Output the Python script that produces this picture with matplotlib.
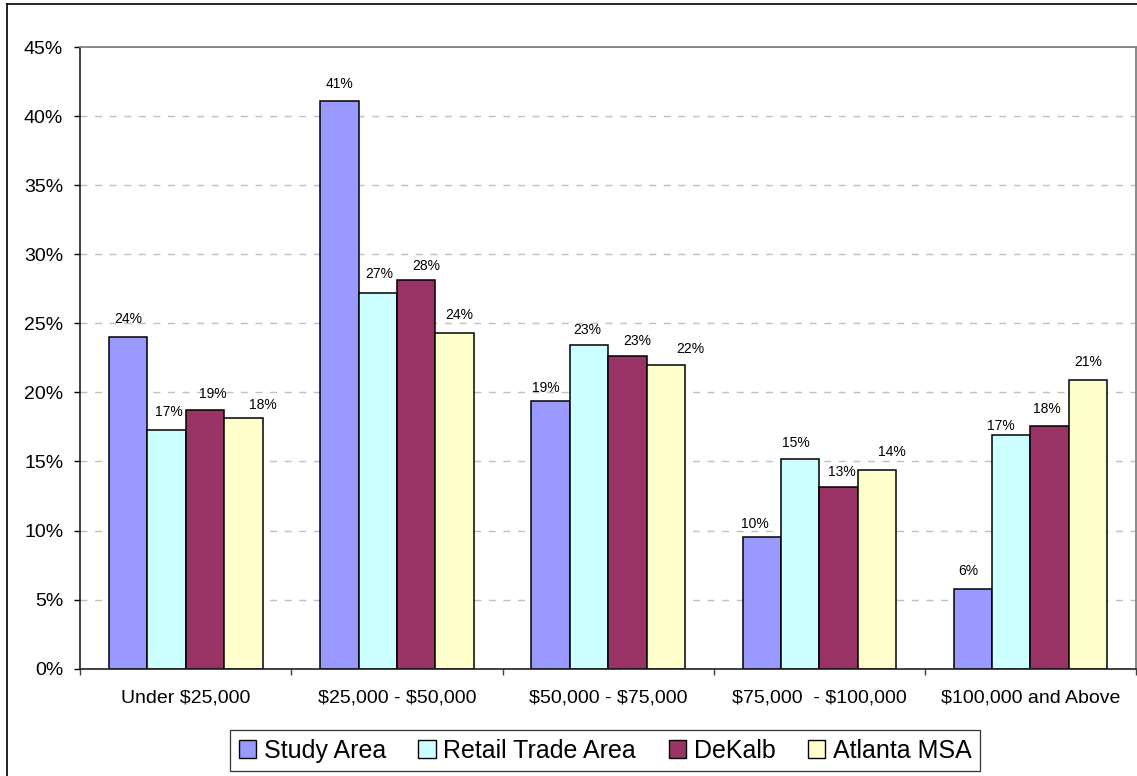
import numpy as np
import matplotlib
matplotlib.use("Agg")
import matplotlib.pyplot as plt
from matplotlib.lines import Line2D

plt.rcParams['font.family'] = ['Liberation Sans', 'DejaVu Sans']
plt.rcParams['text.parse_math'] = False

# Household income distribution by geography (share of households, %)
categories = ["Under $25,000", "$25,000 - $50,000", "$50,000 - $75,000",
              "$75,000  - $100,000", "$100,000 and Above"]
series_names = ["Study Area", "Retail Trade Area", "DeKalb", "Atlanta MSA"]
study_area = [24.0, 41.1, 19.4, 9.55, 5.75]
retail_trade_area = [17.25, 27.2, 23.4, 15.2, 16.95]
dekalb = [18.7, 28.1, 22.6, 13.15, 17.55]
atlanta_msa = [18.15, 24.3, 22.0, 14.4, 20.9]
y_ticks = [0, 5, 10, 15, 20, 25, 30, 35, 40, 45]

series_values = [study_area, retail_trade_area, dekalb, atlanta_msa]
colors = ["#9999FF", "#CCFFFF", "#993366", "#FFFFCC"]

# label nudges in pixels (dx right, dy above bar top), per series then category
label_dx = [[0, 0, -5, -7, -4.7],
            [2.5, 1.5, -2, -4.7, -10],
            [8, 10, 10, 3.7, -2.7],
            [19.5, 5, 25, 15, 0]]
label_dy = [[18.3, 17, 13, 13, 18.5],
            [18, 19.4, 15.3, 15.3, 8.3],
            [16.5, 14.3, 15.7, 15, 17.3],
            [12.7, 17.7, 15.7, 17.3, 17.7]]

W, H = 1137, 776
fig = plt.figure(figsize=(W / 100, H / 100), dpi=100)
fig.patch.set_facecolor("white")

left, right, top, bottom = 80.3, 1136.0, 47.0, 668.7
ax = fig.add_axes([left / W, 1 - bottom / H, (right - left) / W, (bottom - top) / H])

n_series = len(series_values)
bar_w = 1.0 / (n_series + 1.5)
x = np.arange(len(categories))
px2pt = 72 / 100

for j, (name, vals, col) in enumerate(zip(series_names, series_values, colors)):
    xpos = x + (j - (n_series - 1) / 2) * bar_w
    ax.bar(xpos, vals, width=bar_w, color=col, edgecolor="black",
           linewidth=1.1, label=name, zorder=3)
    for i, (xp, v) in enumerate(zip(xpos, vals)):
        ax.annotate(f"{v:.0f}%", (xp, v),
                    xytext=(label_dx[j][i] * px2pt, label_dy[j][i] * px2pt),
                    textcoords="offset points", ha="center", va="center",
                    fontsize=10, color="black", zorder=4)

ax.set_xlim(-0.5, len(categories) - 0.5)
ax.set_ylim(0, 45)
ax.set_yticks(y_ticks)
ax.set_yticklabels([f"{t}%" for t in y_ticks], fontsize=14)
ax.tick_params(axis="y", direction="out", length=4.3, width=1, pad=8, colors="black")

ax.set_xticks(x)
ax.set_xticklabels(categories, fontsize=14)
ax.tick_params(axis="x", which="major", length=0, pad=15)
ax.set_xticks(np.arange(len(categories) + 1) - 0.5, minor=True)
ax.tick_params(axis="x", which="minor", direction="out", length=4.3, width=1,
               color="#404040")

for t in y_ticks[1:-1]:
    ax.axhline(t, color="#c0c0c0", linewidth=1, linestyle=(0, (5, 5.5)), zorder=1)

for side in ("top", "right"):
    ax.spines[side].set_color("#808080")
    ax.spines[side].set_linewidth(1.3)
for side in ("left", "bottom"):
    ax.spines[side].set_color("#202020")
    ax.spines[side].set_linewidth(1.2)
ax.spines["bottom"].set_zorder(5)

leg = fig.legend(loc="center", bbox_to_anchor=(605 / W, 1 - 750.7 / H), ncol=4,
                 fontsize=18, handlelength=0.7, handleheight=0.7,
                 handletextpad=0.3, columnspacing=1.3, borderpad=0.35,
                 fancybox=False, frameon=True, borderaxespad=0)
leg.get_frame().set_edgecolor("black")
leg.get_frame().set_linewidth(0.9)
for h in leg.legend_handles:
    h.set_linewidth(1.0)

# outer chart border
fig.add_artist(Line2D([7 / W, 7 / W], [0, 1 - 4 / H], transform=fig.transFigure,
                      color="black", linewidth=1.2))
fig.add_artist(Line2D([7 / W, 1], [1 - 4 / H, 1 - 4 / H], transform=fig.transFigure,
                      color="black", linewidth=1.2))

fig.savefig("out.png", dpi=100, facecolor="white")
